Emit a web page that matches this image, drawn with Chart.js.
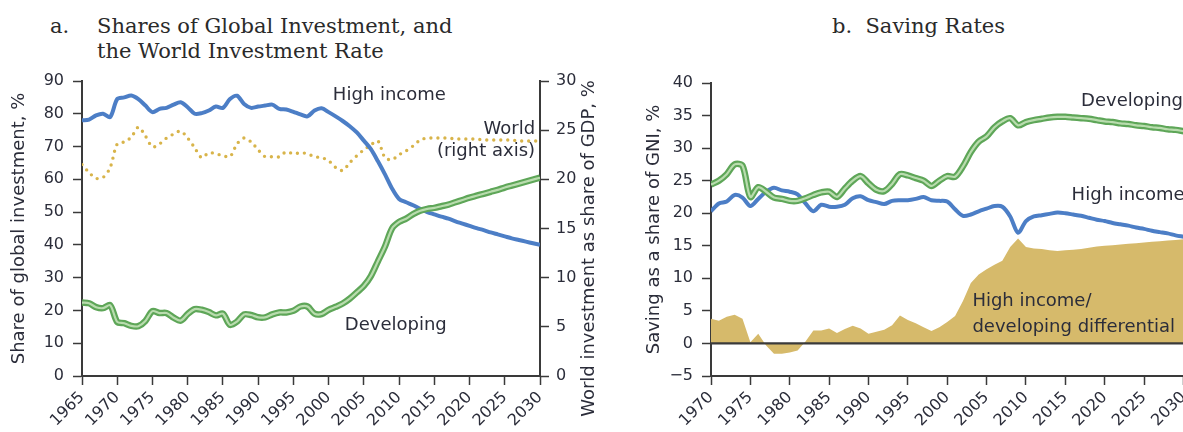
<!DOCTYPE html>
<html><head><meta charset="utf-8">
<script src="https://cdn.jsdelivr.net/npm/chart.js@4/dist/chart.umd.min.js"></script>
<style>
html,body{margin:0;padding:0;width:1183px;height:432px;overflow:hidden;background:#fff;}
#wrapA{position:absolute;left:0;top:0;width:600px;height:432px;}
#wrapB{position:absolute;left:600px;top:0;width:600px;height:432px;}
.t{position:absolute;font-family:"DejaVu Serif",serif;font-size:21px;color:#2a2a2a;white-space:nowrap;line-height:25px;}
</style></head>
<body>
<div class="t" style="left:50px;top:14px;">a.</div>
<div class="t" style="left:97px;top:14px;">Shares of Global Investment, and<br>the World Investment Rate</div>
<div class="t" style="left:832px;top:14px;">b.&nbsp; Saving Rates</div>
<div id="wrapA"><canvas id="cA" width="600" height="432"></canvas></div>
<div id="wrapB"><canvas id="cB" width="600" height="432"></canvas></div>
<script>
// ---------- Panel a data ----------
const yearsA = [1965,1966,1967,1968,1969,1970,1971,1972,1973,1974,1975,1976,1977,1978,1979,1980,1981,1982,1983,1984,1985,1986,1987,1988,1989,1990,1991,1992,1993,1994,1995,1996,1997,1998,1999,2000,2001,2002,2003,2004,2005,2006,2007,2008,2009,2010,2011,2012,2013,2014,2015,2016,2017,2018,2019,2020,2021,2022,2023,2024,2025,2026,2027,2028,2029,2030];
const highIncomeShare = [78,78.2,79.5,80,79,84.5,85,85.6,84.5,82.5,80.5,81.5,81.8,82.8,83.5,82,80,80.2,81,82.2,81.8,84.5,85.5,83,81.8,82.2,82.5,82.8,81.5,81.3,80.6,79.8,79.2,81,81.7,80.5,79.2,77.8,76.2,74.3,71.8,69.2,65.5,61.5,57.2,54,53,52.1,51,50,49.3,48.6,48,47.2,46.5,45.8,45.1,44.5,43.8,43.2,42.6,42,41.5,41,40.5,40];
const developingShare = [22.4,22.2,21,20.7,21.6,16.5,16.1,15.3,15.2,16.8,19.8,19.2,19.2,17.8,16.9,18.9,20.4,20.2,19.5,18.5,19,15.6,16.6,18.8,18.6,17.9,17.9,18.8,19.4,19.4,19.9,21.2,21.2,19,18.9,20.2,21.1,22.1,23.6,25.5,27.5,30.5,35,39.5,45,47,48,49.4,50.4,51,51.3,51.8,52.3,53,53.7,54.4,55,55.6,56.2,56.8,57.5,58.1,58.7,59.3,59.9,60.5];
const worldInvestRate = [21.5,20.7,20.1,20.2,21.2,23.6,23.8,24.3,25.3,24.4,23.3,23.6,24.2,24.6,24.9,24.2,23.2,22.2,22.7,22.6,22.4,22.3,23.6,24.2,23.8,23,22.3,22.3,22.3,22.8,22.6,22.7,22.6,22.3,22.2,21.9,21.2,20.9,21.7,22.4,23,23.5,23.9,22.2,22,22.5,22.9,23.4,24,24.2,24.2,24.2,24.2,24.1,24.1,24.1,24.1,24,24,24,24,24,23.9,23.9,23.9,23.9];
const yTicksA = [0,10,20,30,40,50,60,70,80,90];
const yTicksA2 = [0,5,10,15,20,25,30];

// ---------- Panel b data ----------
const yearsB = [1970,1971,1972,1973,1974,1975,1976,1977,1978,1979,1980,1981,1982,1983,1984,1985,1986,1987,1988,1989,1990,1991,1992,1993,1994,1995,1996,1997,1998,1999,2000,2001,2002,2003,2004,2005,2006,2007,2008,2009,2010,2011,2012,2013,2014,2015,2016,2017,2018,2019,2020,2021,2022,2023,2024,2025,2026,2027,2028,2029,2030];
const developingSaving = [24.4,25,26,27.5,27.3,22.5,24,23.3,22.4,22.2,21.9,21.9,22.3,22.8,23.2,23.3,22.5,23.8,25,25.7,24.6,23.6,23.4,24.5,26,25.8,25.4,25,24.2,25,25.7,25.6,27.2,29.4,31,31.8,33.2,34.1,34.6,33.5,34,34.3,34.5,34.7,34.8,34.8,34.7,34.6,34.5,34.3,34.1,34,33.8,33.7,33.5,33.4,33.2,33.1,32.9,32.8,32.6];
const highIncomeSaving = [20.3,21.5,21.8,22.8,22.4,21.1,22.2,23.3,23.9,23.5,23.3,22.9,21.5,20.3,21.3,21,21,21.3,22.3,22.6,22,21.7,21.4,21.9,22,22,22.2,22.5,22,21.9,21.8,20.6,19.6,19.8,20.3,20.7,21.1,21,19.5,17,18.8,19.5,19.7,19.9,20.1,20,19.8,19.6,19.3,19,18.8,18.5,18.3,18.1,17.8,17.6,17.3,17.1,16.9,16.6,16.4];
const savingDifferential = [3.8,3.5,4.1,4.4,3.8,0.2,1.5,-0.3,-1.6,-1.6,-1.4,-1.1,0.3,2,2,2.3,1.6,2.2,2.7,2.3,1.5,1.8,2.1,2.8,4.3,3.6,3.1,2.5,1.9,2.5,3.3,4.2,6.5,9.3,10.6,11.4,12.1,12.7,14.8,16.1,14.8,14.6,14.5,14.3,14.2,14.3,14.4,14.5,14.7,14.9,15,15.1,15.2,15.3,15.4,15.5,15.6,15.7,15.8,15.9,16];
const yTicksB = [-5,0,5,10,15,20,25,30,35,40];

// ---------- styling ----------
const FONT = '"DejaVu Sans", sans-serif';
const TXT = '#2b2d3a';
const AX = '#3a3a3a';
const BLUE = '#4c7ec6';
const GREEN = '#5ea658';
const GREEN_IN = '#b9dcae';
const GOLD = '#d8b44a';
const TAN = '#d6ba6b';

const pts = (xs, ys) => xs.map((x, i) => ({x: x, y: ys[i]}));
const fmtNum = v => (v < 0 ? '\u2212' + Math.abs(v) : String(v));

// annotations, positioned in data coordinates
const notesA = [
  {text: 'High income', x: 2000.6, y: 85.5, align: 'left', axis: 'y'},
  {text: 'World', x: 2029.3, y: 75.2, align: 'right', axis: 'y'},
  {text: '(right axis)', x: 2029.3, y: 68.5, align: 'right', axis: 'y'},
  {text: 'Developing', x: 2002.3, y: 15.5, align: 'left', axis: 'y'}
];
const notesB = [
  {text: 'Developing', x: 2017.0, y: 37.2, align: 'left', axis: 'y'},
  {text: 'High income', x: 2015.8, y: 22.7, align: 'left', axis: 'y'},
  {text: 'High income/', x: 2003.2, y: 6.4, align: 'left', axis: 'y'},
  {text: 'developing differential', x: 2003.2, y: 2.5, align: 'left', axis: 'y'}
];

function notesPlugin(notes, extra) {
  return {
    id: 'notes',
    afterDatasetsDraw(chart) {
      const ctx = chart.ctx;
      const xs = chart.scales.x;
      ctx.save();
      if (extra) extra(chart, ctx);
      ctx.fillStyle = TXT;
      ctx.font = '18px ' + FONT;
      ctx.textBaseline = 'middle';
      notes.forEach(n => {
        ctx.textAlign = n.align;
        ctx.fillText(n.text, xs.getPixelForValue(n.x), chart.scales[n.axis].getPixelForValue(n.y));
      });
      ctx.restore();
    }
  };
}

const tickFont = {family: FONT, size: 16};
const titleFont = {family: FONT, size: 18};

function xAxis(min, max, height) {
  return {
    type: 'linear', min: min, max: max,
    afterFit: s => { s.height = height; },
    border: {display: true, color: AX, width: 2},
    grid: {display: true, drawOnChartArea: false, drawTicks: true, tickLength: 9, tickWidth: 1.5, tickColor: AX},
    ticks: {stepSize: 5, autoSkip: false, maxRotation: 45, minRotation: 45, padding: 3,
      color: TXT, font: tickFont, callback: v => String(v)},
    afterBuildTicks: s => { s.ticks = []; for (let v = min; v <= max; v += 5) s.ticks.push({value: v}); }
  };
}

// lower "order" is drawn on top
// ---------- Chart A ----------
new Chart(document.getElementById('cA'), {
  type: 'line',
  data: {
    datasets: [
      {data: pts(yearsA, worldInvestRate), yAxisID: 'y1', order: 5, borderColor: GOLD, borderWidth: 3.4,
        borderDash: [0, 7], borderCapStyle: 'round', pointRadius: 0, tension: 0.3, fill: false},
      {data: pts(yearsA, highIncomeShare), yAxisID: 'y', order: 4, borderColor: BLUE, borderWidth: 4,
        pointRadius: 0, tension: 0.3, fill: false},
      {data: pts(yearsA, developingShare), yAxisID: 'y', order: 3, borderColor: GREEN, borderWidth: 6.5,
        pointRadius: 0, tension: 0.3, fill: false},
      {data: pts(yearsA, developingShare), yAxisID: 'y', order: 2, borderColor: GREEN_IN, borderWidth: 2.2,
        pointRadius: 0, tension: 0.3, fill: false}
    ]
  },
  options: {
    responsive: false, animation: false, events: [],
    layout: {padding: {top: 81, left: 0, right: 10, bottom: 0}},
    plugins: {legend: {display: false}, tooltip: {enabled: false}},
    scales: {
      x: xAxis(1965, 2030, 56),
      y: {
        position: 'left', min: 0, max: 90,
        afterFit: s => { s.width = 82; },
        afterBuildTicks: s => { s.ticks = yTicksA.map(v => ({value: v})); },
        border: {display: true, color: AX, width: 2},
        grid: {drawOnChartArea: false, tickLength: 9, tickWidth: 1.5, tickColor: AX},
        ticks: {color: TXT, font: tickFont, padding: 9, callback: fmtNum},
        title: {display: true, text: 'Share of global investment, %', color: TXT, font: titleFont, padding: {top: 9, bottom: 0}}
      },
      y1: {
        position: 'right', min: 0, max: 30,
        afterFit: s => { s.width = 50; },
        afterBuildTicks: s => { s.ticks = yTicksA2.map(v => ({value: v})); },
        border: {display: true, color: AX, width: 2},
        grid: {drawOnChartArea: false, tickLength: 9, tickWidth: 1.5, tickColor: AX},
        ticks: {color: TXT, font: tickFont, padding: 7, callback: fmtNum}
      }
    }
  },
  plugins: [notesPlugin(notesA, (chart, ctx) => {
    const a = chart.chartArea;
    ctx.save();
    ctx.translate(589, (a.top + a.bottom) / 2 + 20);
    ctx.rotate(-Math.PI / 2);
    ctx.fillStyle = TXT;
    ctx.font = '18px ' + FONT;
    ctx.textAlign = 'center';
    ctx.textBaseline = 'middle';
    ctx.fillText('World investment as share of GDP, %', 0, 0);
    ctx.restore();
  })]
});

// ---------- Chart B ----------
new Chart(document.getElementById('cB'), {
  type: 'line',
  data: {
    datasets: [
      {data: pts(yearsB, savingDifferential), yAxisID: 'y', order: 5, borderWidth: 0, borderColor: TAN,
        backgroundColor: TAN, pointRadius: 0, tension: 0, fill: {target: 'origin'}},
      {data: pts(yearsB, highIncomeSaving), yAxisID: 'y', order: 4, borderColor: BLUE, borderWidth: 4,
        pointRadius: 0, tension: 0.3, fill: false},
      {data: pts(yearsB, developingSaving), yAxisID: 'y', order: 3, borderColor: GREEN, borderWidth: 6.5,
        pointRadius: 0, tension: 0.3, fill: false},
      {data: pts(yearsB, developingSaving), yAxisID: 'y', order: 2, borderColor: GREEN_IN, borderWidth: 2.2,
        pointRadius: 0, tension: 0.3, fill: false}
    ]
  },
  options: {
    responsive: false, animation: false, events: [],
    layout: {padding: {top: 83, left: 0, right: 12, bottom: 0}},
    plugins: {legend: {display: false}, tooltip: {enabled: false}},
    scales: {
      x: xAxis(1970, 2030, 56),
      y: {
        position: 'left', min: -5, max: 40,
        afterFit: s => { s.width = 111; },
        afterBuildTicks: s => { s.ticks = yTicksB.map(v => ({value: v})); },
        border: {display: true, color: AX, width: 2},
        grid: {drawOnChartArea: false, tickLength: 9, tickWidth: 1.5, tickColor: AX},
        ticks: {color: TXT, font: tickFont, padding: 9, callback: fmtNum},
        title: {display: true, text: 'Saving as a share of GNI, %', color: TXT, font: titleFont, padding: {top: 44, bottom: 0}}
      }
    }
  },
  plugins: [notesPlugin(notesB, (chart, ctx) => {
    const a = chart.chartArea;
    const y0 = chart.scales.y.getPixelForValue(0);
    ctx.save();
    ctx.strokeStyle = AX;
    ctx.lineWidth = 2.2;
    ctx.beginPath();
    ctx.moveTo(a.left, y0);
    ctx.lineTo(a.right, y0);
    ctx.stroke();
    ctx.restore();
  })]
});
</script>
</body></html>
